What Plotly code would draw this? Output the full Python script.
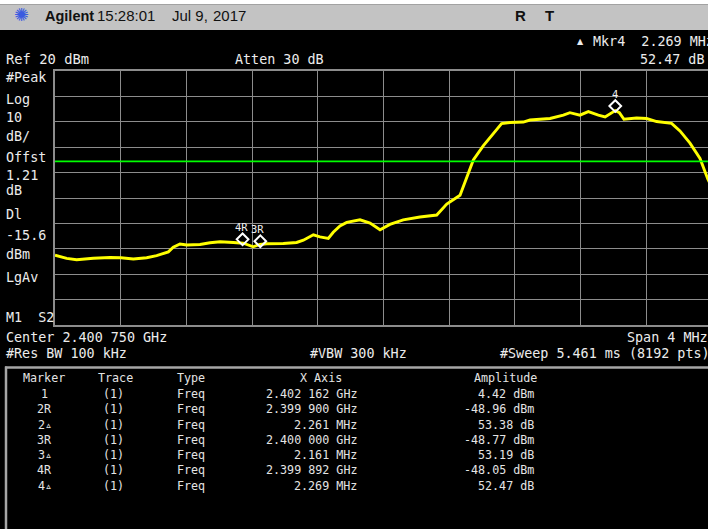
import plotly.graph_objects as go

# ---------------- data ----------------
freq_ghz = [2.398750, 2.398821, 2.398882, 2.398983, 2.399085, 2.399152, 2.399227, 2.399308,
            2.399369, 2.399409, 2.399440, 2.399470, 2.399511, 2.399552, 2.399633, 2.399694,
            2.399755, 2.399836, 2.399896, 2.399957, 2.399998, 2.400039, 2.400140, 2.400221,
            2.400262, 2.400323, 2.400363, 2.400414, 2.400444, 2.400485, 2.400526, 2.400607,
            2.400668, 2.400729, 2.400789, 2.400870, 2.400972, 2.401074, 2.401135, 2.401216,
            2.401246, 2.401297, 2.401357, 2.401418, 2.401469, 2.401520, 2.401601, 2.401642,
            2.401764, 2.401845, 2.401885, 2.401946, 2.401997, 2.402058, 2.402099, 2.402161,
            2.402186, 2.402214, 2.402291, 2.402352, 2.402413, 2.402504, 2.402555, 2.402616,
            2.402677, 2.402725, 2.402750]
trace_dbm = [-52.5, -53.8, -54.3, -53.7, -53.4, -53.5, -54.0, -53.5,
             -52.7, -51.7, -51.2, -49.4, -48.1, -48.5, -48.3, -47.6,
             -47.2, -47.5, -47.8, -49.2, -48.3, -48.0, -47.9, -47.5,
             -46.6, -44.5, -45.3, -45.9, -43.5, -41.0, -39.6, -38.6,
             -39.9, -42.5, -40.4, -38.6, -37.5, -36.7, -32.4, -28.9,
             -23.9, -15.0, -9.5, -4.9, -0.7, -0.3, -0.1, 0.7,
             1.3, 2.6, 3.6, 2.6, 4.0, 2.6, 1.9, 4.42,
             3.6, 1.0, 1.5, 1.3, 0.1, -0.6, -3.6, -8.4,
             -14.4, -22.6, -26.0]

marker_labels = ["4R", "3R", "4"]
marker_freq_ghz = [2.399892, 2.400000, 2.402161]
marker_amp_dbm = [-48.05, -48.77, 4.42]

ref_level_dbm = 20
db_per_div = 10
n_div = 10
display_line_dbm = -15.6
center_ghz = 2.40075
span_mhz = 4

table_marker = ["1", "2R", "2▵", "3R", "3▵", "4R", "4▵"]
table_trace = ["(1)", "(1)", "(1)", "(1)", "(1)", "(1)", "(1)"]
table_type = ["Freq", "Freq", "Freq", "Freq", "Freq", "Freq", "Freq"]
table_xaxis = ["2.402 162 GHz", "2.399 900 GHz", "2.261 MHz", "2.400 000 GHz",
               "2.161 MHz", "2.399 892 GHz", "2.269 MHz"]
table_amp = ["4.42 dBm", "-48.96 dBm", "53.38 dB", "-48.77 dBm",
             "53.19 dB", "-48.05 dBm", "52.47 dB"]

left_labels = ["#Peak", "Log", "10", "dB/", "Offst", "1.21", "dB", "Dl", "-15.6", "dBm", "LgAv", "M1  S2"]

# ---------------- layout geometry ----------------
W, H = 708, 529
L, T = 55, 71
PW = 653          # visible plot width (graticule continues past the image edge)
GRID_W = 657      # full graticule width
PH = 254
B = H - T - PH

def px(x):
    return (x - L) / PW

def py(y):
    return (T + PH - y) / PH

span_ghz = span_mhz / 1000.0
x_start = center_ghz - span_ghz / 2
x_end_visible = x_start + span_ghz * PW / GRID_W
y_lo = ref_level_dbm - n_div * db_per_div
# marker glyphs sit just above the trace point (about 4.5 px)
glyph_lift_db = 4.5 * (n_div * db_per_div) / PH

MONO = "DejaVu Sans Mono"
SANS = "Liberation Sans"
TXT = "#ececec"

fig = go.Figure()

fig.add_trace(go.Scatter(x=freq_ghz, y=trace_dbm, mode="lines",
                         line=dict(color="#ffff00", width=2.9), hoverinfo="skip"))

fig.add_trace(go.Scatter(x=marker_freq_ghz, y=marker_amp_dbm, mode="markers", yaxis="y2",
                         marker=dict(symbol="diamond-open", size=9, color="white",
                                     line=dict(color="white", width=2)),
                         hoverinfo="skip"))

annotations = []

def txt(s, x, y, size=13.4, anchor="left", family=MONO, color=TXT, bold=False):
    annotations.append(dict(text=("<b>%s</b>" % s) if bold else s,
                            x=px(x), y=py(y), xref="paper", yref="paper",
                            xanchor=anchor, yanchor="middle", showarrow=False,
                            font=dict(family=family, size=size, color=color),
                            borderpad=0))

# header bar
txt("✺", 13, 15, size=18, family="DejaVu Sans", color="#3a5be0")
txt("Agilent", 44, 16, size=14.5, family=SANS, color="#111111", bold=True)
txt("15:28:01", 96, 16, size=15, family=SANS, color="#111111")
txt("Jul 9,", 171, 16, size=15, family=SANS, color="#111111")
txt("2017", 212, 16, size=15, family=SANS, color="#111111")
txt("R", 514, 16, size=15, family=SANS, color="#111111", bold=True)
txt("T", 544, 16, size=15, family=SANS, color="#111111", bold=True)

# top status texts
txt("▲", 576, 41, size=8, family="DejaVu Sans")
txt("Mkr4  2.269 MHz", 592, 41)
txt("Ref 20 dBm", 5, 59, size=13.8)
txt("Atten 30 dB", 234, 59)
txt("52.47 dB", 639, 59)

left_y = [77.3, 99.3, 117.3, 136, 157.3, 175, 190, 214, 235, 254, 277.3, 317.3]
for s, yy in zip(left_labels, left_y):
    txt(s, 5, yy)

# bottom texts
txt("Center 2.400 750 GHz", 5, 337.5)
txt("Span 4 MHz", 626, 337.5)
txt("#Res BW 100 kHz", 5, 353.8)
txt("#VBW 300 kHz", 309, 353.8)
txt("#Sweep 5.461 ms (8192 pts)", 499, 353.8)

# marker table
TS = 11.7
TC = "#e4e4e4"
txt("Marker", 44, 378, size=TS, anchor="center", color=TC)
txt("Trace", 115, 378, size=TS, anchor="center", color=TC)
txt("Type", 176, 378, size=TS, color=TC)
txt("X Axis", 321, 378, size=TS, anchor="center", color=TC)
txt("Amplitude", 505, 378, size=TS, anchor="center", color=TC)
row_y = [393.8, 409.2, 424.5, 440, 455.3, 470.5, 486.2]
for i, yy in enumerate(row_y):
    txt(table_marker[i], 44.5, yy, size=TS, anchor="center", color=TC)
    txt(table_trace[i], 113.5, yy, size=TS, anchor="center", color=TC)
    txt(table_type[i], 176, yy, size=TS, color=TC)
    txt(table_xaxis[i], 358, yy, size=TS, anchor="right", color=TC)
    txt(table_amp[i], 535, yy, size=TS, anchor="right", color=TC)

# marker labels on the trace
label_dx = [-1, -2.5, 0]
for lab, f, a, dx in zip(marker_labels, marker_freq_ghz, marker_amp_dbm, label_dx):
    annotations.append(dict(text=lab, x=f, y=a, xref="x", yref="y", showarrow=False,
                            xanchor="center", yanchor="middle", yshift=17, xshift=dx,
                            font=dict(family=MONO, size=10.5, color="#f0f0f0")))

shapes = [
    # white strip + grey title bar
    dict(type="rect", xref="paper", yref="paper", x0=px(0), x1=px(W), y0=py(0), y1=py(4.5),
         fillcolor="white", line=dict(width=0), layer="below"),
    dict(type="rect", xref="paper", yref="paper", x0=px(0), x1=px(W), y0=py(4.5), y1=py(30),
         fillcolor="#c3c3c3", line=dict(width=0), layer="below"),
    # display line
    dict(type="line", xref="paper", yref="y", x0=0, x1=1, y0=display_line_dbm, y1=display_line_dbm,
         line=dict(color="#00ff00", width=1.6), layer="above"),
    # marker table frame
    dict(type="line", xref="paper", yref="paper", x0=px(5), x1=px(W + 5), y0=py(367.5), y1=py(367.5),
         line=dict(color="#a6a6a6", width=2.5)),
    dict(type="line", xref="paper", yref="paper", x0=px(6), x1=px(6), y0=py(366.5), y1=py(H + 5),
         line=dict(color="#a6a6a6", width=2.5)),
]

GRID = "#8c8c8c"
fig.update_layout(
    width=W, height=H, autosize=False,
    margin=dict(l=L, r=W - L - PW, t=T, b=B, pad=0),
    paper_bgcolor="black", plot_bgcolor="black",
    showlegend=False,
    annotations=annotations, shapes=shapes,
    xaxis=dict(range=[x_start, x_end_visible], tick0=x_start, dtick=span_ghz / n_div,
               showgrid=True, gridcolor=GRID, gridwidth=1, zeroline=False,
               showticklabels=False, ticks="", showline=True, linecolor=GRID,
               linewidth=2, mirror=True, fixedrange=True),
    yaxis=dict(range=[y_lo, ref_level_dbm], tick0=ref_level_dbm,
               dtick=db_per_div, showgrid=True, gridcolor=GRID, gridwidth=1, zeroline=False,
               showticklabels=False, ticks="", showline=True, linecolor=GRID, linewidth=2,
               mirror=False, fixedrange=True),
    yaxis2=dict(range=[y_lo - glyph_lift_db, ref_level_dbm - glyph_lift_db], overlaying="y",
                visible=False, fixedrange=True),
)

fig.write_html("out.html", config={"displayModeBar": False, "responsive": False},
               post_script="document.body.style.margin='0';document.body.style.overflow='hidden';")
